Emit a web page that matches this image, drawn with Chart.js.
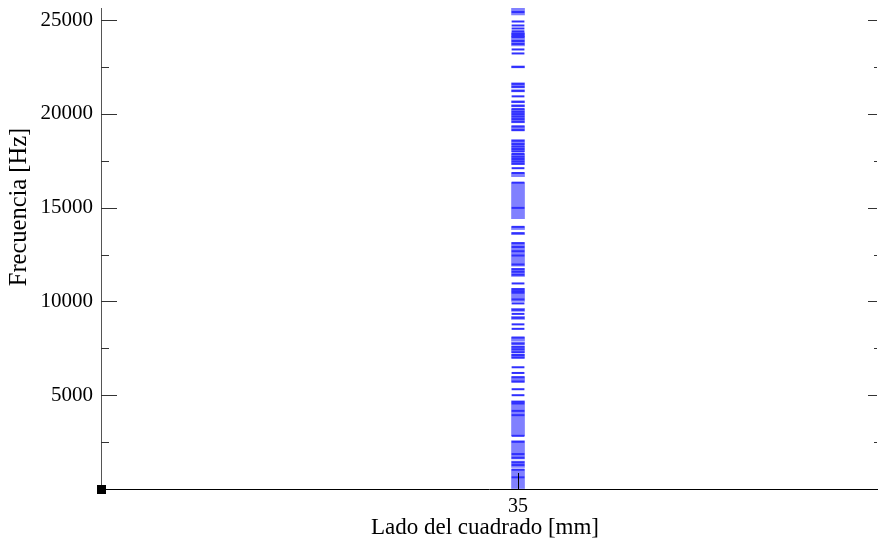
<!DOCTYPE html>
<html>
<head>
<meta charset="utf-8">
<script src="https://cdn.jsdelivr.net/npm/chart.js@4.4.1/dist/chart.umd.min.js"></script>
<style>
  html, body { margin: 0; padding: 0; background: #fff; }
  #wrap { width: 878px; height: 546px; }
</style>
</head>
<body>
<div id="wrap"><canvas id="chart"></canvas></div>
<script>
// Lado del cuadrado [mm]
const side = 35;
const yTicks = [0, 2500, 5000, 7500, 10000, 12500, 15000, 17500, 20000, 22500, 25000];

// Bandas de frecuencia (lo, hi) en Hz
const bands = [
    [25270, 25640], [24200, 24310], [23620, 24150], [22450, 22550],
    [21380, 21650], [21170, 21280], [20590, 20690], [20370, 20480],
    [19520, 20265], [19090, 19360], [18350, 18620], [17980, 18300],
    [17290, 17870], [16650, 16860], [14410, 16330], [13830, 13990],
    [13560, 13670], [11880, 13140], [11330, 11760], [10000, 10690],
    [9470, 9630], [9040, 9200], [7890, 8100], [7700, 7835],
    [7270, 7620], [6970, 7180], [5690, 5990], [2840, 4700],
    [1600, 2570], [1150, 1490], [0, 1060]
];

// Frecuencias individuales (lineas) en Hz
const lines = [
    25425, 24920, 24707, 24547, 24398, 24290, 24220, 24148, 24095, 23882,
    23723, 23430, 23217, 22499, 21595, 21436, 21223, 20930, 20638, 20425,
    20249, 20106, 19984, 19856, 19718, 19574, 19324, 19133, 18563, 18387,
    18260, 18122, 17994, 17857, 17712, 17590, 17463, 17340, 17101, 16845,
    16329, 14985, 13973, 13633, 13104, 12899, 12675, 12446, 11968, 11718,
    11580, 11420, 10957, 10654, 10548, 10463, 10106, 9893, 9548, 9335,
    9122, 8776, 8537, 8069, 7750, 7580, 7447, 7287, 7143, 7005,
    6489, 6186, 5957, 5729, 5319, 5000, 4644, 4558, 4165, 3936,
    2835, 2516, 1862, 1665, 1420, 1277, 1027, 622
];

// tick marks inside the plot, octave style
const tickMarks = {
    id: 'tickMarks',
    afterDatasetsDraw(chart) {
        const { ctx, chartArea: a, scales: { x, y } } = chart;
        ctx.save();
        ctx.lineWidth = 1;
        y.ticks.forEach(t => {
            if (t.value <= 0) return;
            const py = Math.round(y.getPixelForValue(t.value)) + 0.5;
            const major = t.value % 5000 === 0;
            ctx.strokeStyle = '#333';
            ctx.beginPath();
            ctx.moveTo(a.left, py);
            ctx.lineTo(a.left + (major ? 16 : 8), py);
            ctx.moveTo(a.right, py);
            ctx.lineTo(a.right - (major ? 9 : 3), py);
            ctx.stroke();
        });
        const px = Math.round(x.getPixelForValue(side)) + 0.5;
        ctx.strokeStyle = '#000';
        ctx.beginPath();
        ctx.moveTo(px, a.bottom);
        ctx.lineTo(px, a.bottom - 16);
        ctx.stroke();
        ctx.fillStyle = '#000';
        ctx.fillRect(a.left - 4, a.bottom - 4, 9, 9);
        ctx.restore();
    },
    afterDraw(chart) {
        const { ctx } = chart;
        ctx.save();
        ctx.fillStyle = '#000';
        ctx.textAlign = 'center';
        ctx.textBaseline = 'middle';
        ctx.font = '23px "Liberation Serif"';
        ctx.fillText('Lado del cuadrado [mm]', 485, 528);
        ctx.font = '24.5px "Liberation Serif"';
        ctx.translate(20, 207);
        ctx.rotate(-Math.PI / 2);
        ctx.fillText('Frecuencia [Hz]', 0, 0);
        ctx.restore();
    }
};

new Chart(document.getElementById('chart'), {
    type: 'bar',
    data: {
        datasets: [{
            type: 'scatter',
            data: lines.map(f => ({ x: side, y: f })),
            pointStyle: 'line',
            pointRadius: 6.4,
            pointBorderWidth: 2,
            borderColor: '#3030ff',
            backgroundColor: '#3030ff'
        }, {
            type: 'bar',
            data: bands.map(b => ({ x: side, y: b })),
            backgroundColor: '#8080ff',
            borderWidth: 0,
            barThickness: 13
        }]
    },
    options: {
        responsive: true,
        maintainAspectRatio: false,
        animation: false,
        events: [],
        layout: { autoPadding: false, padding: { top: 8, right: 1, left: 0, bottom: 0 } },
        plugins: { legend: { display: false }, tooltip: { enabled: false } },
        scales: {
            x: {
                type: 'linear',
                offset: false,
                min: 29.626,
                max: 39.626,
                afterBuildTicks: s => { s.ticks = [{ value: side }]; },
                afterFit: s => { s.height = 57; s.paddingLeft = 0; s.paddingRight = 0; },
                grid: { drawOnChartArea: false, drawTicks: false, offset: false },
                border: { color: '#000', width: 1 },
                ticks: { font: { family: 'Liberation Serif', size: 20 }, color: '#000', padding: 6 }
            },
            y: {
                min: 0,
                max: 25640,
                afterBuildTicks: s => { s.ticks = yTicks.map(v => ({ value: v })); },
                afterFit: s => { s.width = 101; s.paddingTop = 0; s.paddingBottom = 0; },
                grid: { drawOnChartArea: false, drawTicks: false },
                border: { color: '#555', width: 1 },
                ticks: {
                    font: { family: 'Liberation Serif', size: 21 }, color: '#000', padding: 8,
                    autoSkip: false,
                    callback: v => (v > 0 && v % 5000 === 0) ? String(v) : ''
                }
            }
        }
    },
    plugins: [tickMarks]
});
</script>
</body>
</html>
